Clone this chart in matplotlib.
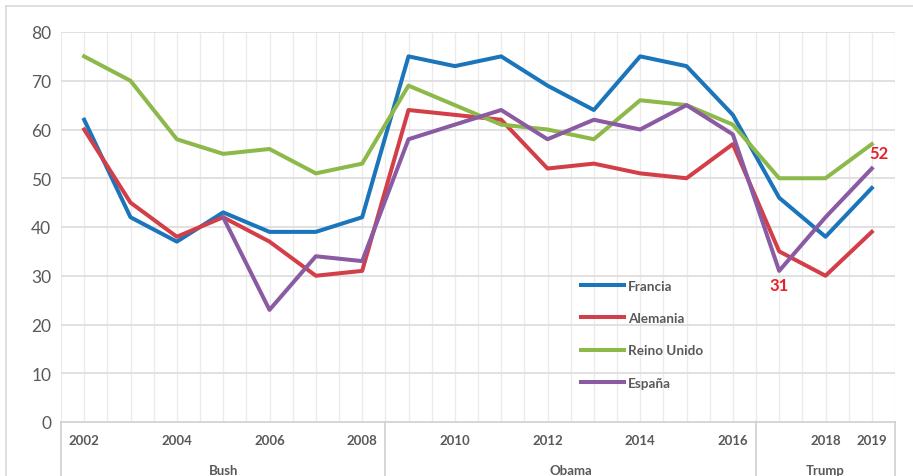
import numpy as np
import matplotlib.pyplot as plt
import matplotlib.transforms as mtransforms
from matplotlib.lines import Line2D

# data
years = list(range(2002, 2020))
francia = [62, 42, 37, 43, 39, 39, 42, 75, 73, 75, 69, 64, 75, 73, 63, 46, 38, 48]
alemania = [60, 45, 38, 42, 37, 30, 31, 64, 63, 62, 52, 53, 51, 50, 57, 35, 30, 39]
reino_unido = [75, 70, 58, 55, 56, 51, 53, 69, 65, 61, 60, 58, 66, 65, 61, 50, 50, 57]
espana = [np.nan, np.nan, np.nan, 42, 23, 34, 33, 58, 61, 64, 58, 62, 60, 65, 59, 31, 42, 52]

year_labels = ['2002', '', '2004', '', '2006', '', '2008', '', '2010', '', '2012', '',
               '2014', '', '2016', '', '2018', '2019']
presidents = ['Bush', 'Obama', 'Trump']
terms = [(0, 6), (7, 14), (15, 17)]

gray = '#595959'
plt.rcParams['font.family'] = ['Lato', 'DejaVu Sans']

fig = plt.figure(figsize=(9.13, 4.77), dpi=100)
ax = fig.add_axes([61/913, 1-423/477, (895-61)/913, (423-33)/477])

x = np.arange(len(years))
ax.plot(x, francia, color='#1B75BB', lw=2.9, label='Francia')
ax.plot(x, alemania, color='#D33F49', lw=2.9, label='Alemania')
ax.plot(x, reino_unido, color='#8DB94B', lw=2.9, label='Reino Unido')
ax.plot(x, espana, color='#8A5AA3', lw=2.9, label='España')

ax.set_xlim(-0.5, len(years) - 0.5)
ax.set_ylim(0, 80)
ax.set_yticks(range(0, 81, 10))
ax.tick_params(axis='y', length=0, labelsize=12.5, labelcolor=gray, pad=7)
ax.set_xticks([])

# grid
for v in np.arange(-0.5, len(years), 0.5):
    ax.axvline(v, color='#EBEBEB', lw=1, zorder=0)
for h in range(10, 81, 10):
    ax.axhline(h, color='#DCDCDC', lw=1.2, zorder=0)
for s in ['top', 'right', 'left']:
    ax.spines[s].set_visible(False)
ax.spines['bottom'].set_color('#D0D0D0')
ax.spines['bottom'].set_linewidth(1.2)

# two-level category axis
trans = mtransforms.blended_transform_factory(ax.transData, ax.transAxes)
for i, lab in enumerate(year_labels):
    if lab:
        ax.text(i, -0.046, lab, transform=trans, ha='center', va='center',
                fontsize=9.5, fontweight='bold', color=gray)
for name, (a, b) in zip(presidents, terms):
    ax.text((a + b) / 2, -0.123, name, transform=trans, ha='center', va='center',
            fontsize=9.5, fontweight='bold', color=gray, clip_on=False)
for v in [-0.5, 6.5, 14.5, 17.5]:
    ax.add_line(Line2D([v, v], [0, -0.2], transform=trans, color='#D0D0D0',
                       lw=1.2, clip_on=False))

# labels on España
ax.annotate('52', (17, espana[17]), xytext=(5, 11), textcoords='offset points',
            ha='center', va='center', fontsize=12, fontweight='bold', color='#E8202A')
ax.annotate('31', (15, espana[15]), xytext=(0, -10), textcoords='offset points',
            ha='center', va='center', fontsize=12, fontweight='bold', color='#E8202A')

leg = ax.legend(loc='upper left', bbox_to_anchor=(581/913, 1-281/477),
                bbox_transform=fig.transFigure, frameon=False, borderpad=0,
                borderaxespad=0, handlelength=3.2, handletextpad=0.3,
                labelspacing=1.5, prop={'size': 9.7, 'weight': 'bold'})
for t in leg.get_texts():
    t.set_color(gray)

# outer chart border
fig.add_artist(Line2D([6/913, 1], [1-7/477, 1-7/477], color='#D9D9D9', lw=1.2))
fig.add_artist(Line2D([6/913, 6/913], [0, 1-7/477], color='#D9D9D9', lw=1.2))

fig.savefig('out.png', dpi=100)
